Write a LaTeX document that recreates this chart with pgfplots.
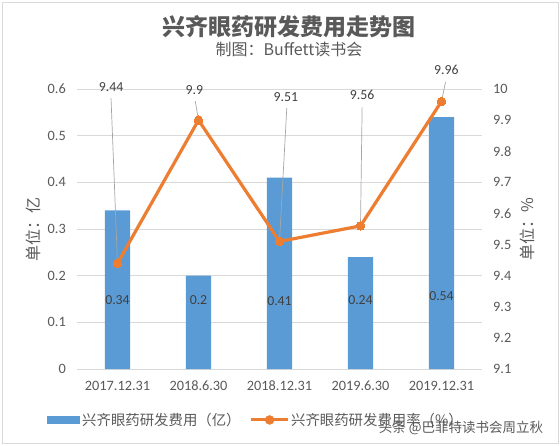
\documentclass[border=0pt]{standalone}
\usepackage{pgfplots}
\pgfplotsset{compat=1.18}
\usepackage{fontspec}
\setmainfont{Carlito}
\newfontfamily\cjk{Noto Sans CJK SC}
\definecolor{barblue}{HTML}{5B9BD5}
\definecolor{lineorange}{HTML}{ED7D31}
\definecolor{txt}{HTML}{595959}
\definecolor{lbl}{HTML}{404040}
\definecolor{gridc}{HTML}{D9D9D9}
\definecolor{leader}{HTML}{A6A6A6}
\newcommand{\tf}{\fontsize{14.3}{17}\selectfont}
\newcommand{\lf}{\fontsize{13.8}{16}\selectfont}
\begin{document}
\begin{tikzpicture}[x=1pt,y=1pt]
\path[use as bounding box] (0,0) rectangle (560,445);
\draw[gridc, line width=0.8pt] (2,2) rectangle (558,443);
\node[font=\cjk\bfseries\fontsize{23}{26}\selectfont, text=txt] at (289,418.3) {兴齐眼药研发费用走势图};
\node[font=\cjk\fontsize{16}{19}\selectfont, text=txt] at (289,396) {制图：Buffett读书会};

\begin{axis}[
  at={(77pt,76pt)}, anchor=south west,
  scale only axis, width=405pt, height=280pt,
  xmin=-0.5, xmax=4.5, ymin=0, ymax=0.6,
  ytick={0,0.1,0.2,0.3,0.4,0.5,0.6},
  xtick={0,1,2,3,4},
  xticklabels={2017.12.31,2018.6.30,2018.12.31,2019.6.30,2019.12.31},
  major tick length=0pt,
  axis line style={draw=none},
  ymajorgrids, major grid style={gridc, line width=0.8pt},
  /pgf/number format/assume math mode=true,
  yticklabel style={font=\tf, text=txt, inner sep=0pt, xshift=-11pt},
  xticklabel style={font=\tf, text=txt, inner sep=0pt, yshift=-12pt},
  every axis y label/.style={at={(axis description cs:-0.109,0.5)}, anchor=center, rotate=90},
  ylabel={\cjk\fontsize{16}{18}\selectfont\color{txt}单位：亿},
  clip=false,
  legend columns=2,
  legend cell align=left,
  legend style={at={(axis description cs:-0.074,-0.182)}, anchor=west, draw=none, fill=none,
    inner sep=0pt, font=\cjk\fontsize{14.4}{17}\selectfont, text=txt,
    /tikz/every even column/.append style={column sep=7pt}},
]
\addplot[ybar, bar width=0.31, fill=barblue, draw=none,
  legend image code/.code={\fill[barblue] (0pt,-4.3pt) rectangle (33pt,4.3pt);}]
  coordinates {(0,0.34) (1,0.2) (2,0.41) (3,0.24) (4,0.54)};
\addlegendentry{兴齐眼药研发费用（亿）}
\addlegendimage{legend image code/.code={\draw[lineorange, line width=3pt] (0pt,0pt)--(36.5pt,0pt); \fill[lineorange] (18.5pt,0pt) circle (4.5pt);}}
\addlegendentry{兴齐眼药研发费用率（\%）}
\node[font=\lf, text=lbl] at (axis cs:0,0.148) {0.34};
\node[font=\lf, text=lbl] at (axis cs:1,0.148) {0.2};
\node[font=\lf, text=lbl] at (axis cs:2,0.146) {0.41};
\node[font=\lf, text=lbl] at (axis cs:3,0.148) {0.24};
\node[font=\lf, text=lbl] at (axis cs:4,0.157) {0.54};
\end{axis}

\begin{axis}[
  at={(77pt,76pt)}, anchor=south west,
  scale only axis, width=405pt, height=280pt,
  xmin=-0.5, xmax=4.5, ymin=9.1, ymax=10,
  ytick={9.1,9.2,9.3,9.4,9.5,9.6,9.7,9.8,9.9,10},
  xtick=\empty,
  yticklabel pos=right,
  major tick length=0pt,
  axis line style={draw=none},
  /pgf/number format/assume math mode=true,
  yticklabel style={font=\tf, text=txt, inner sep=0pt, xshift=11pt, anchor=west},
  every axis y label/.style={at={(axis description cs:1.111,0.5)}, anchor=center, rotate=90},
  ylabel={\cjk\fontsize{16}{18}\selectfont\color{txt}单位：\%},
  clip=false,
]
\draw[leader, line width=0.7pt] (axis cs:-0.08,9.971) -- (axis cs:0,9.44);
\draw[leader, line width=0.7pt] (axis cs:0.96,9.961) -- (axis cs:1,9.9);
\draw[leader, line width=0.7pt] (axis cs:2.09,9.939) -- (axis cs:2,9.51);
\draw[leader, line width=0.7pt] (axis cs:3.02,9.942) -- (axis cs:3,9.56);
\draw[leader, line width=0.7pt] (axis cs:4.05,10.023) -- (axis cs:4,9.96);
\addplot[lineorange, line width=3.2pt, line join=round, mark=*, mark size=4.3pt,
  mark options={fill=lineorange, draw=lineorange, line width=0pt}]
  coordinates {(0,9.44) (1,9.9) (2,9.51) (3,9.56) (4,9.96)};
\node[font=\lf, text=lbl] at (axis cs:-0.08,10.006) {9.44};
\node[font=\lf, text=lbl] at (axis cs:0.95,9.997) {9.9};
\node[font=\lf, text=lbl] at (axis cs:2.08,9.974) {9.51};
\node[font=\lf, text=lbl] at (axis cs:3.02,9.981) {9.56};
\node[font=\lf, text=lbl] at (axis cs:4.06,10.061) {9.96};
\end{axis}
\node[font=\cjk\fontsize{13.5}{15}\selectfont, text=black!65] at (461,17) {头条 @巴菲特读书会周立秋};
\end{tikzpicture}
\end{document}
